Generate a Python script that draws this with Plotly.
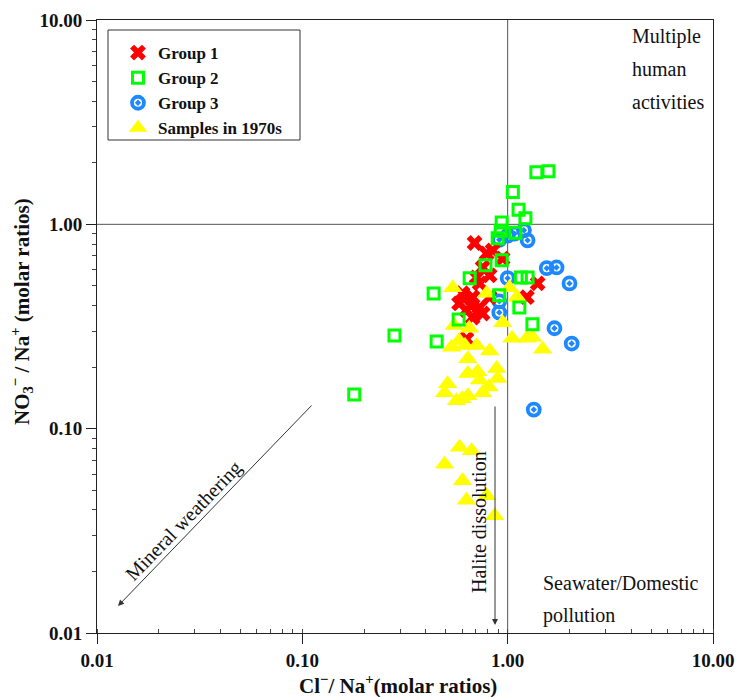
import plotly.graph_objects as go

# ---------------- data (molar ratios) ----------------
g1_x = [0.69, 0.79, 0.845, 0.945, 0.755, 0.817, 0.706, 0.73, 1.40, 0.603,
        0.675, 1.24, 0.58, 0.73, 0.63, 0.755, 0.675, 0.63, 0.817, 0.66]
g1_y = [0.81, 0.72, 0.745, 0.68, 0.615, 0.563, 0.55, 0.514, 0.514, 0.46,
        0.44, 0.44, 0.41, 0.392, 0.38, 0.366, 0.35, 0.275, 0.44, 0.40]

g2_x = [0.179, 0.281, 0.436, 0.451, 0.577, 0.653, 0.78, 0.935, 0.894, 0.925,
        0.935, 1.06, 1.13, 1.22, 1.09, 1.38, 1.58, 1.16, 1.25, 1.14, 1.32, 0.91]
g2_y = [0.147, 0.286, 0.459, 0.267, 0.342, 0.544, 0.63, 0.667, 0.854, 0.93,
        1.02, 1.44, 1.18, 1.07, 0.91, 1.80, 1.82, 0.55, 0.55, 0.392, 0.324, 0.45]

g3_x = [0.91, 1.08, 1.2, 1.25, 1.55, 1.73, 2.0, 1.0, 0.91, 0.91, 1.69, 2.05, 1.34, 1.0]
g3_y = [0.84, 0.90, 0.935, 0.835, 0.61, 0.615, 0.514, 0.545, 0.42, 0.37, 0.31, 0.261, 0.124, 0.88]

s70_x = [0.54, 0.79, 1.02, 1.11, 0.945, 0.55, 0.65, 1.05, 1.24, 1.32,
         1.48, 0.58, 0.533, 0.62, 0.706, 0.817, 0.64, 0.64, 0.714, 0.884,
         0.894, 0.73, 0.51, 0.493, 0.564, 0.64, 0.755, 0.81, 0.583, 0.667,
         0.493, 0.603, 0.63, 0.79, 0.864, 0.60]
s70_y = [0.49, 0.46, 0.49, 0.44, 0.33, 0.32, 0.31, 0.277, 0.277, 0.28,
         0.245, 0.27, 0.25, 0.255, 0.255, 0.24, 0.22, 0.186, 0.19, 0.197,
         0.176, 0.173, 0.166, 0.15, 0.137, 0.145, 0.15, 0.16, 0.081, 0.078,
         0.067, 0.0556, 0.0446, 0.047, 0.0375, 0.14]

tick_vals = [0.01, 0.1, 1, 10]
tick_text = ["0.01", "0.10", "1.00", "10.00"]

# ---------------- figure ----------------
SERIF = "Liberation Serif, Times New Roman, serif"
fig = go.Figure()

# reference lines at ratio = 1
fig.add_trace(go.Scatter(x=[0.01, 10], y=[1, 1], mode="lines",
                         line=dict(color="#555555", width=1), showlegend=False, hoverinfo="skip"))
fig.add_trace(go.Scatter(x=[1, 1], y=[0.01, 10], mode="lines",
                         line=dict(color="#555555", width=1), showlegend=False, hoverinfo="skip"))

fig.add_trace(go.Scatter(x=g3_x, y=g3_y, mode="markers", name="Group 3", legendrank=3,
                         marker=dict(symbol="circle-open-dot", size=12, color="#1E88FF",
                                     line=dict(width=3.8, color="#1E88FF"))))
fig.add_trace(go.Scatter(x=g1_x, y=g1_y, mode="markers", name="Group 1", legendrank=1,
                         marker=dict(symbol="x", size=14, color="#FF0000",
                                     line=dict(width=0))))
fig.add_trace(go.Scatter(x=s70_x, y=s70_y, mode="markers", name="Samples in 1970s", legendrank=4,
                         marker=dict(symbol="triangle-up", size=17, color="#FFFF00",
                                     line=dict(width=0))))
fig.add_trace(go.Scatter(x=g2_x, y=g2_y, mode="markers", name="Group 2", legendrank=2,
                         marker=dict(symbol="square-open", size=11, color="#00FF00",
                                     line=dict(width=3, color="#00FF00"))))

axis_common = dict(type="log", range=[-2, 1], tickvals=tick_vals, ticktext=tick_text,
                   showgrid=False, zeroline=False, showline=True, linecolor="#222222",
                   linewidth=1, mirror=True, ticks="outside", ticklen=10, tickcolor="#222222",
                   automargin=False,
                   tickfont=dict(family=SERIF, size=19, color="#111111", weight="bold"))

fig.update_xaxes(**axis_common,
                 minor=dict(dtick="D1", ticks="inside", ticklen=4, tickcolor="#444444", showgrid=False))
fig.update_yaxes(**axis_common,
                 minor=dict(dtick="D1", ticks="outside", ticklen=4, tickcolor="#444444", showgrid=False))


def px(xp):
    return (xp - 97) / 616


def py(yp):
    return (633 - yp) / 613


title_font = dict(family=SERIF, size=21, color="#111111", weight="bold")
fig.add_annotation(text="Cl<sup>−</sup>/ Na<sup>+</sup>(molar ratios)", x=px(398), y=py(684),
                   xref="paper", yref="paper", xanchor="center", yanchor="middle",
                   showarrow=False, font=title_font)
fig.add_annotation(text="NO<sub>3</sub><sup>−</sup> / Na<sup>+</sup> (molar ratios)", x=px(21), y=py(312),
                   xref="paper", yref="paper", xanchor="center", yanchor="middle",
                   showarrow=False, textangle=-90, font=title_font)

# legend frame
fig.add_shape(type="rect", xref="paper", yref="paper",
              x0=px(108), x1=px(300), y0=py(140), y1=py(30),
              line=dict(color="#333333", width=1), fillcolor="rgba(0,0,0,0)")

ann_font = dict(family=SERIF, size=20, color="#111111")
texts = [
    ("Multiple", 630, 36),
    ("human", 630, 69),
    ("activities", 630, 102),
    ("Seawater/Domestic", 541, 583),
    ("pollution", 541, 615),
]
for t, xp, yp in texts:
    fig.add_annotation(text=t, x=px(xp), y=py(yp), xref="paper", yref="paper",
                       xanchor="left", yanchor="middle", showarrow=False, font=ann_font)

fig.add_annotation(text="Mineral weathering", x=px(183), y=py(521), xref="paper", yref="paper",
                   xanchor="center", yanchor="middle", showarrow=False, textangle=-46,
                   font=dict(family=SERIF, size=20, color="#111111"))
fig.add_annotation(text="Halite dissolution", x=px(479), y=py(522), xref="paper", yref="paper",
                   xanchor="center", yanchor="middle", showarrow=False, textangle=-90,
                   font=dict(family=SERIF, size=20, color="#111111"))

# arrows
fig.add_annotation(x=px(118), y=py(606), xref="paper", yref="paper", text="",
                   showarrow=True, ax=195, ay=-202, axref="pixel", ayref="pixel",
                   arrowhead=2, arrowsize=1.2, arrowwidth=1, arrowcolor="#333333")
fig.add_annotation(x=px(495), y=py(625), xref="paper", yref="paper", text="",
                   showarrow=True, ax=0, ay=-220, axref="pixel", ayref="pixel",
                   arrowhead=2, arrowsize=1.2, arrowwidth=1, arrowcolor="#333333")

fig.update_layout(
    width=738, height=697,
    margin=dict(l=97, r=25, t=20, b=64, autoexpand=False),
    paper_bgcolor="white", plot_bgcolor="white",
    legend=dict(x=px(118), y=py(35), xanchor="left", yanchor="top",
                bgcolor="rgba(0,0,0,0)", borderwidth=0,
                font=dict(family=SERIF, size=17, color="#111111", weight="bold"),
                itemclick=False),
    showlegend=True,
)

fig.write_html("out.html")
